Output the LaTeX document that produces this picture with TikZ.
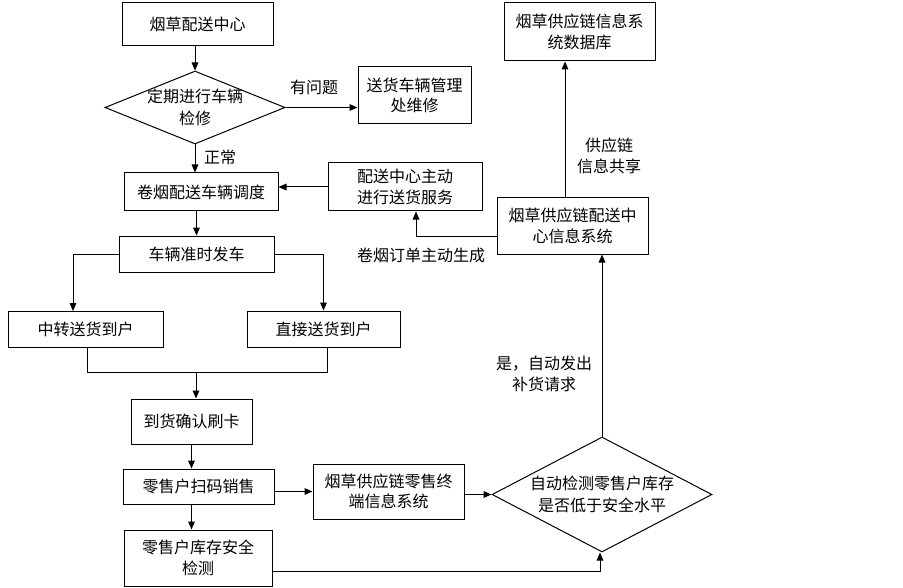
\documentclass[tikz,border=0pt]{standalone}
\usepackage{fontspec}
\setmainfont{Noto Sans CJK SC}
\usepackage{tikz}
\usetikzlibrary{arrows.meta,shapes.geometric}
\tikzset{every picture/.style={line width=0.75pt}}
\tikzset{
  box/.style={draw, rectangle, inner sep=0pt, align=center, font=\fontsize{12}{15.5}\selectfont},
  dia/.style={draw, diamond, inner sep=-4pt, align=center, font=\fontsize{12}{16.5}\selectfont},
  lbl/.style={inner sep=0pt, align=center, font=\fontsize{12}{15.5}\selectfont},
  arr/.style={-{Triangle[length=6pt,width=5pt]}}
}

\begin{document}
\begin{tikzpicture}[x=0.75pt,y=0.75pt,yscale=-1,xscale=1]
\useasboundingbox (0,0) rectangle (903,588);

%Shape: Rectangle / Diamond
\node[box, minimum width=113.25pt, minimum height=32.25pt] (center) at (197.5,24.5) {烟草配送中心};
\node[dia, shape aspect=2.47, minimum width=135pt, minimum height=54.75pt] (check) at (195,107.5) {定期进行车辆\\检修};
\node[box, minimum width=84.75pt, minimum height=42.75pt] (repair) at (414.5,95.5) {送货车辆管理\\处维修};
\node[box, minimum width=115.5pt, minimum height=28.5pt] (dispatch) at (201,192) {卷烟配送车辆调度};
\node[box, minimum width=115.5pt, minimum height=36pt] (service) at (405,187) {配送中心主动\\进行送货服务};
\node[box, minimum width=116.25pt, minimum height=27pt] (depart) at (196.5,254) {车辆准时发车};
\node[box, minimum width=116.25pt, minimum height=27pt] (relay) at (85.5,329) {中转送货到户};
\node[box, minimum width=114.75pt, minimum height=27pt] (direct) at (323.5,329) {直接送货到户};
\node[box, minimum width=90.75pt, minimum height=33.75pt] (arrive) at (191.5,421.5) {到货确认刷卡};
\node[box, minimum width=113.25pt, minimum height=26.25pt] (scan) at (198.5,486.5) {零售户扫码销售};
\node[box, minimum width=113.25pt, minimum height=41.25pt] (terminal) at (388.5,491.5) {烟草供应链零售终\\端信息系统};
\node[box, minimum width=111pt, minimum height=42pt] (stock) at (198,558) {零售户库存安全\\检测};
\node[box, minimum width=113.25pt, minimum height=43.5pt] (database) at (579.5,32) {烟草供应链信息系\\统数据库};
\node[box, minimum width=113.25pt, minimum height=42pt] (dcsys) at (572.5,226) {烟草供应链配送中\\心信息系统};
\node[dia, shape aspect=1.91, minimum width=165pt, minimum height=86.25pt] (level) at (602,494.5) {自动检测零售户库存\\是否低于安全水平};

%Bend points
\coordinate (order) at (416,236);
\coordinate (merge) at (196,372);
\coordinate (back) at (600,571);
\coordinate (share) at (565,198);

%Straight Lines
\draw[arr] (check.north |- center.south) -- (check.north);
\draw[arr] (check.east) -- (check.east -| repair.west);
\draw[arr] (check.south) -- (check.south |- dispatch.north);
\draw[arr] (service.west) -- (service.west -| dispatch.east);
\draw[arr] (dcsys.west |- order) -- (order) -- (order |- service.south);
\draw[arr] (depart.north |- dispatch.south) -- (depart.north);
\draw[arr] (depart.west) -- (73,254) -- (73,311);
\draw[arr] (depart.east) -| (direct.north);
\draw (87,347) |- (merge);
\draw (327,347) |- (merge);
\draw[arr] (merge) -- (merge |- arrive.north);
\draw[arr] (arrive.south) -- (arrive.south |- scan.north);
\draw[arr] (terminal.west -| scan.east) -- (terminal.west);
\draw[arr] (level.west -| terminal.east) -- (level.west);
\draw[arr] (arrive.south |- scan.south) -- (arrive.south |- stock.north);
\draw[arr] (stock.east |- back) -- (back) -- (back |- level.south);
\draw[arr] (level.north) -- (level.north |- dcsys.south);
\draw[arr] (share) -- (share |- database.south);

% Text Node
\node[lbl] (bad) at (314,87) {有问题};
\node[lbl] (ok) at (220,157) {正常};
\node[lbl] (auto) at (421,255) {卷烟订单主动生成};
\node[lbl] (info) at (609,156) {供应链\\信息共享};
\node[lbl] (yes) at (544,374) {是，自动发出\\补货请求};

\end{tikzpicture}
\end{document}
